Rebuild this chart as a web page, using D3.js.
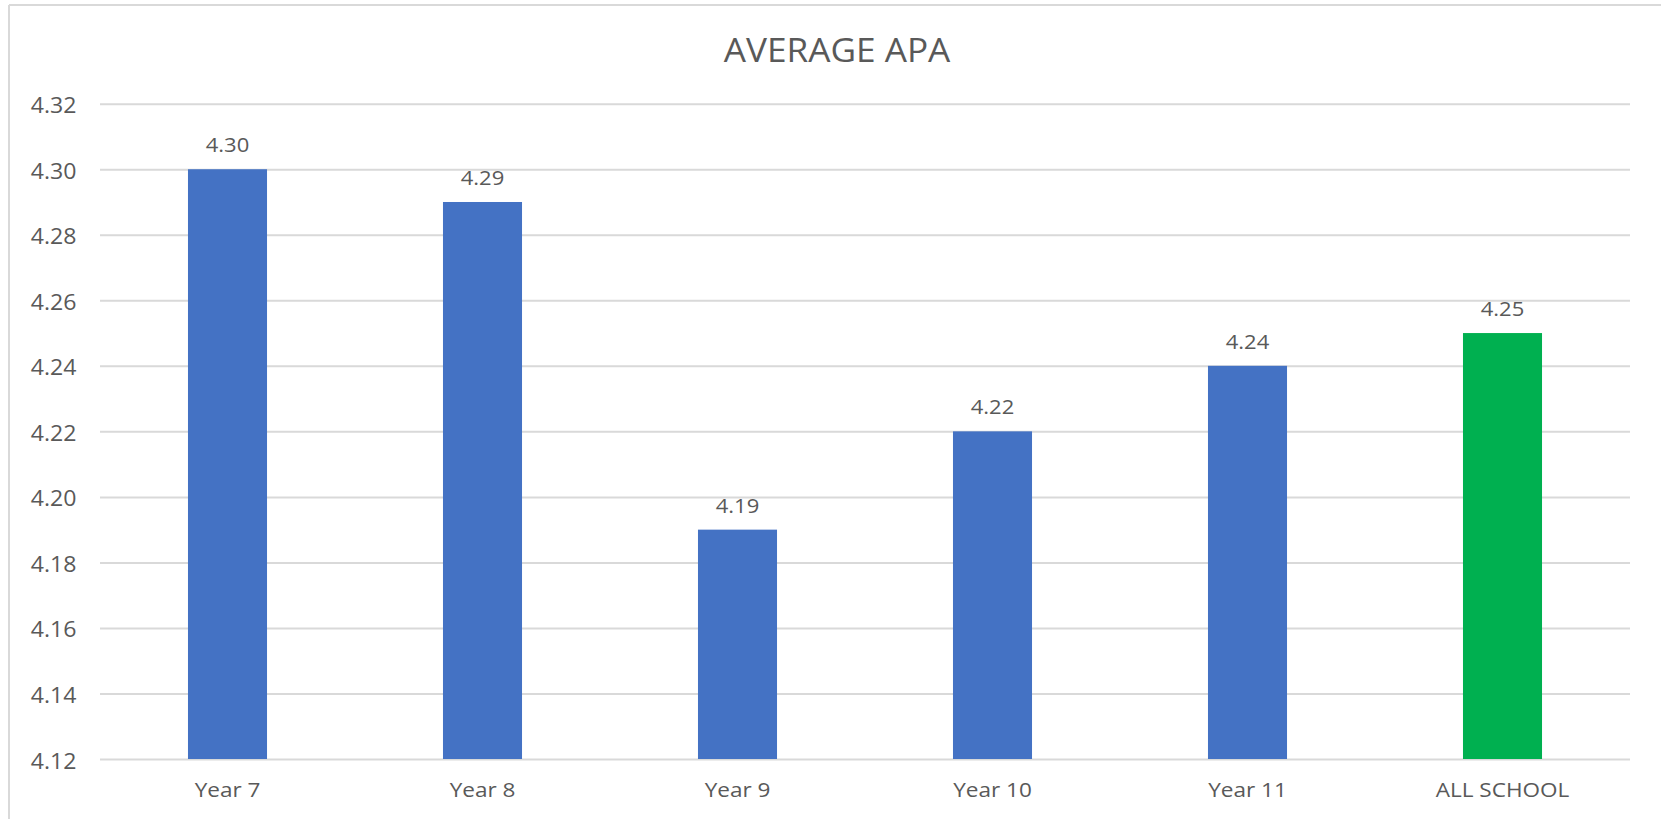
<!DOCTYPE html>
<html>
<head>
<meta charset="utf-8">
<script src="https://cdn.jsdelivr.net/npm/d3@7"></script>
<style>
  html, body { margin: 0; padding: 0; background: #ffffff; overflow: hidden; }
  svg { display: block; }
  text { font-family: "Open Sans", "Noto Sans", sans-serif; fill: #595959; }
</style>
</head>
<body>
<script>
const chartTitle = "AVERAGE APA";
const categories = ["Year 7", "Year 8", "Year 9", "Year 10", "Year 11", "ALL SCHOOL"];
const values = [4.30, 4.29, 4.19, 4.22, 4.24, 4.25];
const barColors = ["#4472C4", "#4472C4", "#4472C4", "#4472C4", "#4472C4", "#00B050"];
const tickValues = [4.12, 4.14, 4.16, 4.18, 4.20, 4.22, 4.24, 4.26, 4.28, 4.30, 4.32];

const W = 1661, H = 819;
const plotL = 100, plotR = 1630, plotT = 103.7, plotB = 759;
const stretch = "scale(1.1,1)";

const svg = d3.select("body").append("svg").attr("width", W).attr("height", H);
svg.append("rect").attr("width", W).attr("height", H).attr("fill", "#ffffff");

// chart frame
svg.append("line").attr("x1", 9).attr("x2", W).attr("y1", 5).attr("y2", 5)
  .attr("stroke", "#d9d9d9").attr("stroke-width", 2);
svg.append("line").attr("x1", 9).attr("x2", 9).attr("y1", 5).attr("y2", H)
  .attr("stroke", "#d9d9d9").attr("stroke-width", 2);

const y = d3.scaleLinear().domain([4.12, 4.32]).range([plotB, plotT]);
const x = d3.scaleBand().domain(categories).range([plotL, plotR])
  .paddingInner(0.69).paddingOuter(0.345);

// y axis + gridlines
const yAxis = svg.append("g").attr("transform", `translate(${plotL},0)`)
  .call(d3.axisLeft(y).tickValues(tickValues).tickFormat(d3.format(".2f"))
    .tickSize(-(plotR - plotL)).tickPadding(0));
yAxis.select(".domain").remove();
yAxis.selectAll(".tick line").attr("stroke", "#d9d9d9").attr("stroke-width", 2);
yAxis.selectAll(".tick text")
  .attr("x", 0).attr("dy", null).attr("y", 0)
  .attr("text-anchor", "end")
  .attr("transform", `translate(-23.5,9) ${stretch}`)
  .style("font-size", "21px").style("fill", "#595959");
yAxis.attr("font-family", null).attr("font-size", null);

// bars
svg.append("g").selectAll("rect").data(categories).join("rect")
  .attr("x", d => x(d))
  .attr("width", x.bandwidth())
  .attr("y", (d, i) => y(values[i]))
  .attr("height", (d, i) => y(4.12) - y(values[i]))
  .attr("fill", (d, i) => barColors[i]);

// data labels
svg.append("g").selectAll("text").data(categories).join("text")
  .attr("text-anchor", "middle")
  .attr("transform", (d, i) => `translate(${x(d) + x.bandwidth() / 2},${y(values[i]) - 17}) ${stretch}`)
  .style("font-size", "20px")
  .text((d, i) => d3.format(".2f")(values[i]));

// x axis labels
const xAxis = svg.append("g").attr("transform", `translate(0,${plotB})`)
  .call(d3.axisBottom(x).tickSize(0));
xAxis.select(".domain").remove();
xAxis.selectAll(".tick text")
  .attr("y", 0).attr("dy", null)
  .attr("text-anchor", "middle")
  .attr("transform", `translate(0,38) ${stretch}`)
  .style("font-size", "20.5px").style("fill", "#595959");
xAxis.attr("font-family", null).attr("font-size", null);

// title
svg.append("text")
  .attr("text-anchor", "middle")
  .attr("transform", `translate(837,62) ${stretch}`)
  .style("font-size", "32px")
  .text(chartTitle);
</script>
</body>
</html>
